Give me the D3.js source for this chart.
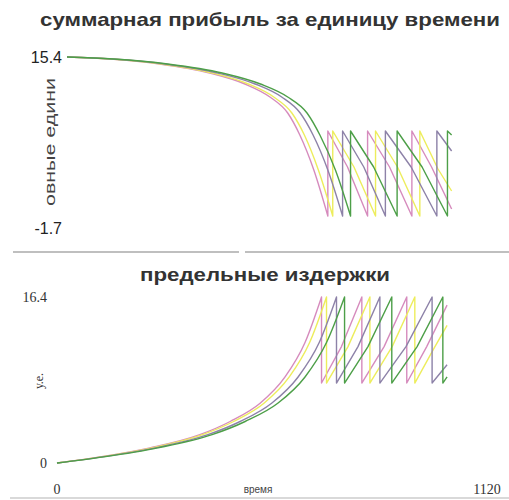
<!DOCTYPE html>
<html><head><meta charset="utf-8">
<script src="https://cdn.jsdelivr.net/npm/d3@7"></script>
<style>body{margin:0;background:#fff;}svg{display:block;}</style>
</head><body>
<svg id="c" width="509" height="500"></svg>
<script>
// ---- data ----
const seriesNames = ["pink","yellow","purple","green"];
const seriesColors = ["#d68bbd","#eded5c","#8d82a8","#4d9f48"];
const timeTicks = [0, 1120];
const profitTicks = [15.4, -1.7];
const costTicks = [16.4, 0];
const topTitle = "суммарная прибыль за единицу времени";
const bottomTitle = "предельные издержки";
const topYLabel = "овные едини";
const bottomYLabel = "у.е.";
const xLabel = "время";

const profitPink = [[0,15.4],[113,15.2],[245,14.7],[377,13.8],[470,12.7],[536,11.4],[583,9.8],[615,7.6],[652,4.1],[689,-0.5],
  [689,8.0],[741,4.4],[794,-0.5],[794,8.0],[852,4.4],[911,-0.5],[911,8.0],[963,4.4],[1016,0.2]];
const profitYellow = [[0,15.4],[115,15.2],[250,14.7],[384,13.8],[479,12.7],[546,11.4],[594,9.8],[627,7.6],[664,4.1],[702,-0.5],
  [702,8.0],[758,4.4],[815,-0.5],[815,8.0],[873,4.4],[932,-0.5],[932,8.0],[980,4.2],[1016,2.0]];
const profitPurple = [[0,15.4],[119,15.2],[259,14.7],[398,13.8],[497,12.7],[567,11.4],[616,9.8],[650,7.6],[689,4.1],[728,-0.5],
  [728,8.0],[784,4.4],[841,-0.5],[841,8.0],[909,4.4],[977,-0.5],[977,8.0],[1016,6.0]];
const profitGreen = [[0,15.4],[123,15.2],[266,14.7],[410,13.8],[511,12.7],[583,11.4],[634,9.8],[668,7.6],[709,4.1],[749,-0.5],
  [749,8.0],[810,4.4],[872,-0.5],[872,8.0],[938,4.4],[1005,-0.5],[1005,8.0],[1016,7.6]];

const costPink = [[0,0],[112,0.6],[242,1.5],[372,2.8],[451,4.1],[529,5.9],[594,8.5],[646,11.9],[689,16.4],
  [689,7.9],[741,11.5],[794,16.4],[794,7.9],[852,11.5],[911,16.4],[911,7.9],[963,11.5],[1016,15.6]];
const costYellow = [[0,0],[114,0.6],[247,1.5],[379,2.8],[460,4.1],[539,5.9],[605,8.5],[658,11.9],[702,16.4],
  [702,7.9],[758,11.5],[815,16.4],[815,7.9],[873,11.5],[932,16.4],[932,7.9],[980,11.2],[1016,13.6]];
const costPurple = [[0,0],[118,0.6],[256,1.5],[393,2.8],[477,4.1],[559,5.9],[628,8.5],[683,11.9],[728,16.4],
  [728,7.9],[784,11.5],[841,16.4],[841,7.9],[909,11.5],[977,16.4],[977,7.9],[1016,9.7]];
const costGreen = [[0,0],[122,0.6],[263,1.5],[404,2.8],[490,4.1],[575,5.9],[646,8.5],[702,11.9],[749,16.4],
  [749,7.9],[810,11.5],[872,16.4],[872,7.9],[938,11.5],[1005,16.4],[1005,7.9],[1016,8.5]];

const profitSeries = [profitPink, profitYellow, profitPurple, profitGreen];
const costSeries = [costPink, costYellow, costPurple, costGreen];

// ---- drawing ----
const svg = d3.select("#c");
const sans = "'Liberation Sans', Arial, sans-serif";
const serif = "'Liberation Serif', 'Times New Roman', serif";

const xTop = d3.scaleLinear().domain([0,1120]).range([67,491]);
const yTop = d3.scaleLinear().domain([-1.7,15.4]).range([228,57]);
const xBot = d3.scaleLinear().domain([0,1120]).range([57,487]);
const yBot = d3.scaleLinear().domain([0,16.4]).range([463,297]);

// titles
svg.append("text").attr("x",270).attr("y",26).attr("text-anchor","middle")
  .attr("font-family",sans).attr("font-weight","bold").attr("font-size",19).attr("fill","#333")
  .attr("textLength",460).attr("lengthAdjust","spacingAndGlyphs").text(topTitle);
svg.append("text").attr("x",265).attr("y",281).attr("text-anchor","middle")
  .attr("font-family",sans).attr("font-weight","bold").attr("font-size",18).attr("fill","#333")
  .attr("textLength",250).attr("lengthAdjust","spacingAndGlyphs").text(bottomTitle);

// dividers
svg.append("line").attr("x1",13).attr("x2",239).attr("y1",252).attr("y2",252).attr("stroke","#aaa").attr("stroke-width",1.5);
svg.append("line").attr("x1",245).attr("x2",509).attr("y1",252).attr("y2",252).attr("stroke","#aaa").attr("stroke-width",1.5);
svg.append("line").attr("x1",10).attr("x2",509).attr("y1",498).attr("y2",498).attr("stroke","#ccc").attr("stroke-width",1.5);

// top y ticks
svg.selectAll(".tyt").data(profitTicks).join("text")
  .attr("x",62).attr("y",d=>yTop(d)).attr("dy","0.36em").attr("text-anchor","end")
  .attr("font-family",sans).attr("font-size",16).attr("fill","#222").text(d=>String(d));
// top y label
svg.append("text").attr("transform","translate(55,142) rotate(-90)").attr("text-anchor","middle")
  .attr("font-family",sans).attr("font-size",15).attr("fill","#444")
  .attr("textLength",128).attr("lengthAdjust","spacingAndGlyphs").text(topYLabel);

// bottom y ticks
svg.selectAll(".byt").data(costTicks).join("text")
  .attr("x",47).attr("y",d=>yBot(d)).attr("dy","0.36em").attr("text-anchor","end")
  .attr("font-family",serif).attr("font-size",14).attr("fill","#333").text(d=>String(d));
svg.append("text").attr("transform","translate(43,381) rotate(-90)").attr("text-anchor","middle")
  .attr("font-family",serif).attr("font-size",12).attr("fill","#333").text(bottomYLabel);

// x labels
svg.selectAll(".xt").data(timeTicks).join("text")
  .attr("x",d=>xBot(d)).attr("y",494).attr("text-anchor","middle")
  .attr("font-family",serif).attr("font-size",14).attr("fill","#333").text(d=>String(d));
svg.append("text").attr("x",258).attr("y",493).attr("text-anchor","middle")
  .attr("font-family",sans).attr("font-size",10).attr("fill","#444").text(xLabel);

// lines: smooth part (until first reset) with monotone curve, sawtooth part linear
function split(arr){
  let k = arr.findIndex((p,i)=> i<arr.length-1 && arr[i+1][0]===p[0]);
  return [arr.slice(0,k+1), arr.slice(k)];
}
function drawSeries(series, xs, ys){
  const smooth = d3.line().x(d=>xs(d[0])).y(d=>ys(d[1])).curve(d3.curveMonotoneX);
  const lin = d3.line().x(d=>xs(d[0])).y(d=>ys(d[1]));
  const g = svg.append("g").attr("fill","none").attr("stroke-width",1.4);
  series.forEach((s,i)=>{
    const [a,b] = split(s);
    g.append("path").attr("d", smooth(a) + lin(b).replace(/^M/,"L")).attr("stroke",seriesColors[i]).attr("stroke-linejoin","round");
  });
}
drawSeries(profitSeries, xTop, yTop);
drawSeries(costSeries, xBot, yBot);
</script>
</body></html>
